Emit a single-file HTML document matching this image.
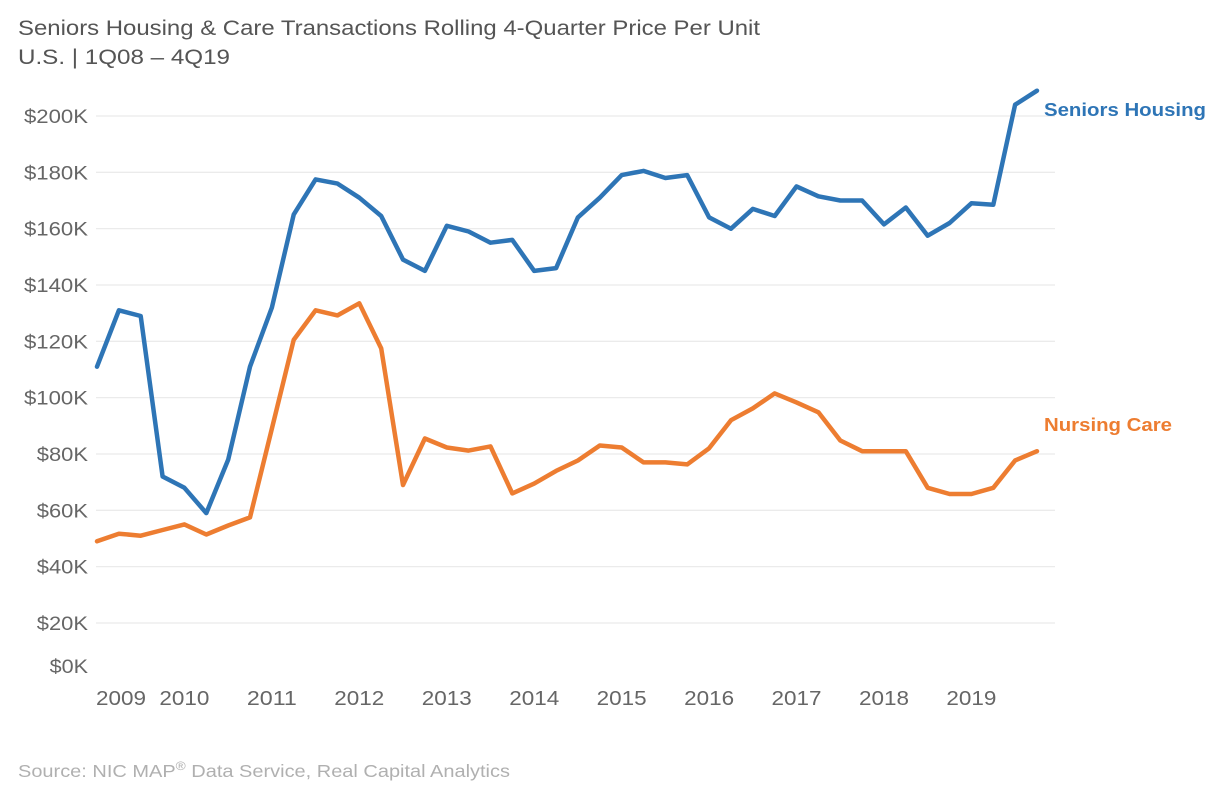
<!DOCTYPE html>
<html><head><meta charset="utf-8"><style>
body{margin:0;background:#fff;width:1216px;height:790px;overflow:hidden;font-family:"Liberation Sans",sans-serif}
</style></head><body>
<svg id="chart" width="1216" height="790" xmlns="http://www.w3.org/2000/svg" font-family="Liberation Sans, sans-serif">
<text x="18" y="35" font-size="21.5" fill="#555" textLength="742" lengthAdjust="spacingAndGlyphs">Seniors Housing &amp; Care Transactions Rolling 4-Quarter Price Per Unit</text>
<text x="18" y="64" font-size="21.5" fill="#555" textLength="212" lengthAdjust="spacingAndGlyphs">U.S. | 1Q08 – 4Q19</text>
<g id="grid"></g><g id="ylabels"></g><g id="xlabels"></g><g id="lines"></g>
<text x="1044" y="116" font-size="18.5" font-weight="bold" fill="#2e75b6" textLength="162" lengthAdjust="spacingAndGlyphs">Seniors Housing</text>
<text x="1044" y="431" font-size="18.5" font-weight="bold" fill="#ed7d31" textLength="128" lengthAdjust="spacingAndGlyphs">Nursing Care</text>
<text x="18" y="777" font-size="17.5" fill="#b0b0b0" textLength="492" lengthAdjust="spacingAndGlyphs">Source: NIC MAP<tspan font-size="12" dy="-7">®</tspan><tspan dy="7"> Data Service, Real Capital Analytics</tspan></text>
</svg>
<script>
const seniorsHousing=[111,131,129,72,68,59,78,111,132,165,177.5,176,171,164.5,149,145,161,159,155,156,145,146,164,171,179,180.5,178,179,164,160,167,164.5,175,171.5,170,170,161.5,167.5,157.5,162,169,168.5,204,209];
const nursingCare=[49,51.7,51,53,55,51.4,54.6,57.5,89,120.5,131,129.2,133.5,117.5,69,85.5,82.3,81.2,82.7,66,69.5,74,77.7,83,82.3,77,77,76.3,82,92,96.2,101.5,98.3,94.8,84.8,81,81,81,68,65.8,65.8,68,77.7,81];
const yTicks=[0,20,40,60,80,100,120,140,160,180,200];
const yearLabels=["2009","2010","2011","2012","2013","2014","2015","2016","2017","2018","2019"];
const yearIndex=[1.1,4,8,12,16,20,24,28,32,36,40];
const NS="http://www.w3.org/2000/svg";
const x=i=>97+i*(940/43);
const y=v=>679.3-v*2.8165;
const grid=document.getElementById('grid'),yl=document.getElementById('ylabels'),xl=document.getElementById('xlabels'),lines=document.getElementById('lines');
yTicks.forEach(t=>{
 if(t>0){const l=document.createElementNS(NS,'line');
 
 
 l.setAttribute('x1',96);l.setAttribute('x2',1055);l.setAttribute('y1',y(t));l.setAttribute('y2',y(t));
 l.setAttribute('stroke','#ebebeb');l.setAttribute('stroke-width','1.3');grid.appendChild(l);}
 const tx=document.createElementNS(NS,'text');
 
 
 const s='$'+t+'K';
 tx.setAttribute('x',88-s.length*12.8);tx.setAttribute('y',(t>0?y(t):666)+7);
 tx.setAttribute('textLength',s.length*12.8);tx.setAttribute('lengthAdjust','spacingAndGlyphs');
 tx.setAttribute('font-size','19');tx.setAttribute('fill','#666');tx.textContent=s;yl.appendChild(tx);
});
yearLabels.forEach((lab,k)=>{
 const tx=document.createElementNS(NS,'text');
 
 
 tx.setAttribute('x',x(yearIndex[k])-25);tx.setAttribute('y',705);
 tx.setAttribute('textLength',50);tx.setAttribute('lengthAdjust','spacingAndGlyphs');
 tx.setAttribute('font-size','20');tx.setAttribute('fill','#666');tx.textContent=lab;xl.appendChild(tx);
});
function drawLine(data,color,name){
 const p=document.createElementNS(NS,'polyline');
 
 
 p.setAttribute('points',data.map((v,i)=>x(i).toFixed(1)+','+y(v).toFixed(1)).join(' '));
 p.setAttribute('fill','none');p.setAttribute('stroke',color);p.setAttribute('stroke-width','4.5');
 p.setAttribute('stroke-linejoin','round');p.setAttribute('stroke-linecap','round');lines.appendChild(p);
}
drawLine(nursingCare,'#ed7d31','nursing-care-line');
drawLine(seniorsHousing,'#2e75b6','seniors-housing-line');
</script>
</body></html>
